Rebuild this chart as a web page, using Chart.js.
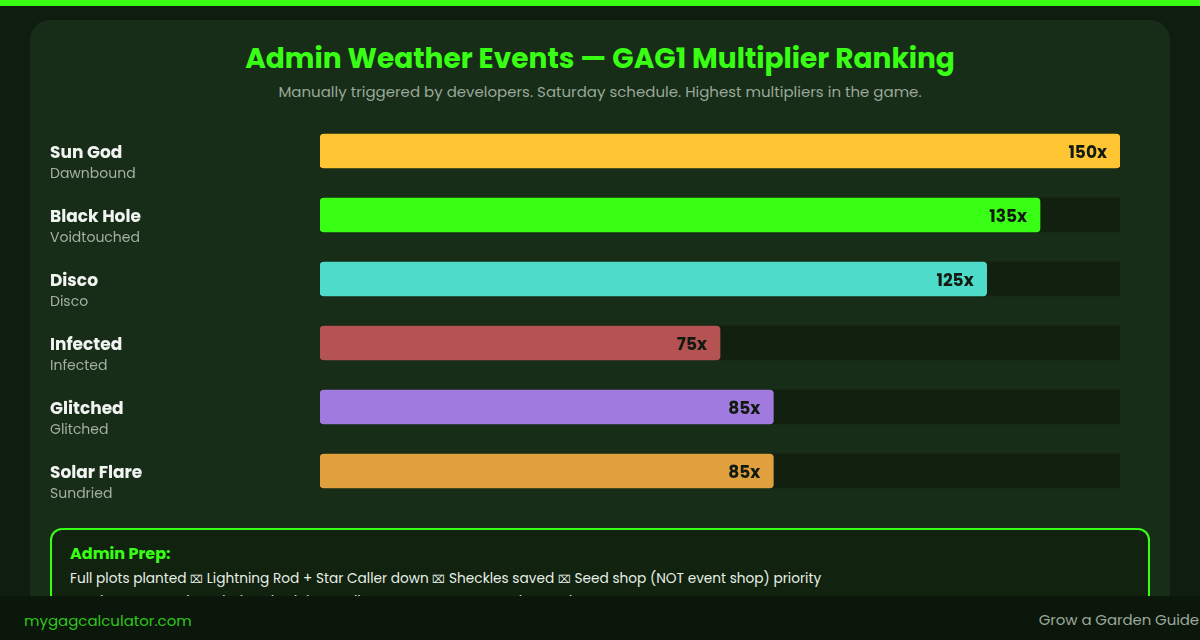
<!DOCTYPE html>
<html>
<head>
<meta charset="utf-8">
<script src="https://cdn.jsdelivr.net/npm/chart.js@4.4.1/dist/chart.umd.min.js"></script>
<style>
  html, body { margin:0; padding:0; width:1200px; height:640px; overflow:hidden; background:#0f1d10; font-family:"Poppins","Open Sans","Lato",sans-serif; }
  .topbar { position:absolute; left:0; top:0; width:1200px; height:6px; background:#39ff14; }
  .card { position:absolute; left:30px; top:20px; width:1140px; height:640px; background:#172d18; border-radius:20px; }
  .title { position:absolute; left:0; top:38px; width:1200px; text-align:center; color:#39ff14; font-weight:700; font-size:28px; letter-spacing:0px; }
  .subtitle { position:absolute; left:0; top:80px; width:1200px; text-align:center; color:#9aa89a; font-size:15px; }
  .chartwrap { position:absolute; left:30px; top:110px; width:1140px; height:410px; }
  .prep { position:absolute; left:50px; top:528px; width:1096px; height:120px; border:2px solid #39ff14; border-radius:12px; background:#11220f; }
  .prep h4 { margin:0; position:absolute; left:18px; top:11px; color:#39ff14; font-size:16px; font-weight:700; }
  .prep p { margin:0; position:absolute; left:18px; color:#e6eee6; font-size:13.7px; white-space:nowrap; }
  .prep p .s { font-size:11px; vertical-align:0px; }
  .footer { position:absolute; left:0; top:596px; width:1200px; height:44px; background:#0b170b; }
  .footer .l { position:absolute; left:24px; top:13px; color:#2fc61a; font-size:15px; }
  .footer .r { position:absolute; right:1px; top:12px; color:#9aa89a; font-size:15px; letter-spacing:-0.1px; }
</style>
</head>
<body>
<div class="topbar"></div>
<div class="card"></div>
<div class="title">Admin Weather Events — GAG1 Multiplier Ranking</div>
<div class="subtitle">Manually triggered by developers. Saturday schedule. Highest multipliers in the game.</div>
<div class="chartwrap"><canvas id="c" width="1140" height="410"></canvas></div>
<div class="prep">
  <h4>Admin Prep:</h4>
  <p style="top:39px">Full plots planted <span class="s">⌧</span> Lightning Rod + Star Caller down <span class="s">⌧</span> Sheckles saved <span class="s">⌧</span> Seed shop (NOT event shop) priority</p>
  <p style="top:62px">Track events on the admin schedule <span class="s">⌧</span> Follow announcements to be ready</p>
</div>
<div class="footer"><span class="l">mygagcalculator.com</span><span class="r">Grow a Garden Guide</span></div>
<script>
const events = ["Sun God", "Black Hole", "Disco", "Infected", "Glitched", "Solar Flare"];
const mutations = ["Dawnbound", "Voidtouched", "Disco", "Infected", "Glitched", "Sundried"];
const multipliers = [150, 135, 125, 75, 85, 85];
const barColors = ["#ffc533", "#39ff14", "#4fdbc9", "#b55252", "#a07ade", "#e0a03e"];
const maxMultiplier = 150;

const labelPlugin = {
  id: 'rowLabels',
  afterDatasetsDraw(chart) {
    const ctx = chart.ctx;
    const y = chart.scales.y;
    const meta = chart.getDatasetMeta(1);
    ctx.save();
    events.forEach((name, i) => {
      const cy = y.getPixelForValue(i);
      ctx.textAlign = 'left';
      ctx.textBaseline = 'middle';
      ctx.fillStyle = '#f2f4f2';
      ctx.font = '700 17px "Poppins","Open Sans","Lato",sans-serif';
      ctx.fillText(name, 20, cy + 3);
      ctx.fillStyle = '#a3b0a3';
      ctx.font = '400 14px "Poppins","Open Sans","Lato",sans-serif';
      ctx.fillText(mutations[i], 20, cy + 23);
      const bar = meta.data[i];
      ctx.fillStyle = '#111a10';
      ctx.textAlign = 'right';
      ctx.font = '700 17px "Poppins","Open Sans","Lato",sans-serif';
      ctx.fillText(multipliers[i] + 'x', bar.x - 13, bar.y + 3);
    });
    ctx.restore();
  }
};

new Chart(document.getElementById('c'), {
  type: 'bar',
  data: {
    labels: events,
    datasets: [
      { data: events.map(() => maxMultiplier), backgroundColor: '#11200f', borderRadius: 0, barThickness: 34, grouped: false, order: 2 },
      { data: multipliers, backgroundColor: barColors, borderRadius: 4, borderSkipped: false, barThickness: 34, grouped: false, order: 1 }
    ]
  },
  options: {
    indexAxis: 'y',
    responsive: false,
    animation: false,
    layout: { padding: { left: 290, right: 50, top: 9, bottom: 17 } },
    scales: {
      x: { display: false, min: 0, max: maxMultiplier },
      y: { display: false }
    },
    plugins: { legend: { display: false }, tooltip: { enabled: false } }
  },
  plugins: [labelPlugin]
});
</script>
</body>
</html>
